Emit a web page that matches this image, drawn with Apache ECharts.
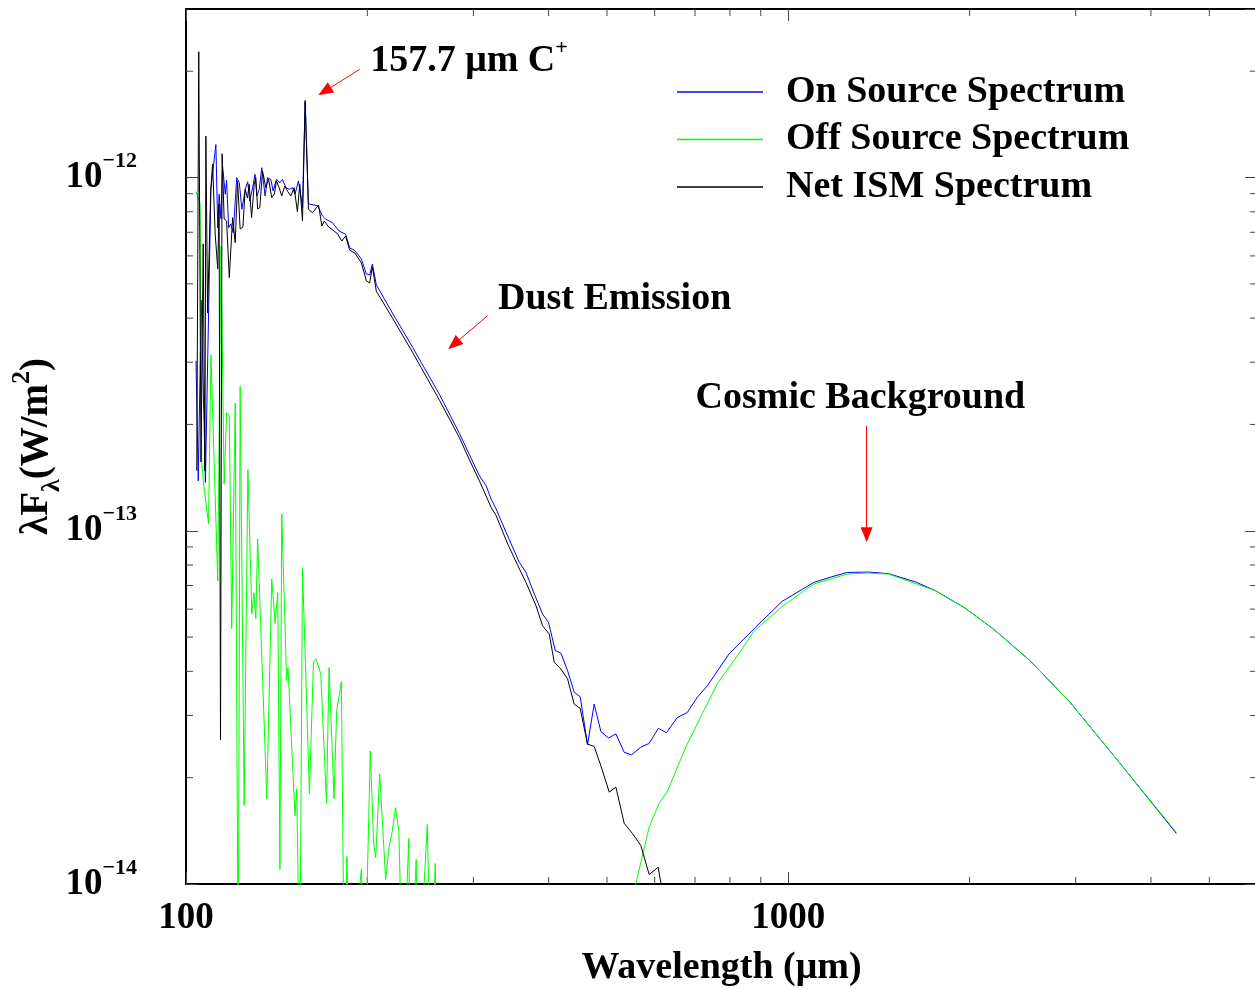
<!DOCTYPE html>
<html>
<head>
<meta charset="utf-8">
<title>ISM spectrum</title>
<script src="https://cdn.jsdelivr.net/npm/echarts@6/dist/echarts.min.js"></script>
<style>
html, body { margin: 0; padding: 0; background: #fff; }
#chart { width: 1255px; height: 989px; }
</style>
</head>
<body>
<div id="chart"></div>
<script>
var FONT = '"Liberation Serif", "Times New Roman", serif';
var TICK = '#444';
var UNIT = 1e-13; // flux values below are in units of 1e-13 W/m^2

var X_MIN = 100, X_MAX = 6000;
var Y_MIN = 1e-14, Y_MAX = 3e-12;
var X_MINOR = [200, 300, 400, 500, 600, 700, 800, 900, 2000, 3000, 4000, 5000];
var Y_MINOR = [2e-14, 3e-14, 4e-14, 5e-14, 6e-14, 7e-14, 8e-14, 9e-14,
               2e-13, 3e-13, 4e-13, 5e-13, 6e-13, 7e-13, 8e-13, 9e-13, 2e-12];

// on source spectrum (blue)
var ON_WL = [103.9, 104.8, 106.0, 107.7, 110.0, 112.1, 112.9, 113.5, 114.3, 115.0, 116.2, 116.8, 117.7, 118.7, 119.8,
  121.4, 122.6, 123.8, 125.4, 126.6, 127.6, 129.0, 130.2, 131.1, 132.3, 133.6, 135.3, 136.6, 138.3, 139.5,
  141.3, 143.2, 144.6, 146.5, 148.3, 150.3, 151.7, 153.7, 154.7, 156.1, 157.7, 159.7, 163.2, 165.5, 168.5,
  170.6, 175.0, 179.5, 184.1, 187.0, 190.6, 195.5, 199.3, 201.8, 203.9, 207.0, 220.6, 238.0, 263.6, 284.5,
  295.5, 307.0, 315.0, 321.1, 327.3, 340.0, 357.6, 366.9, 378.7, 390.9, 399.9, 410.3, 419.3, 430.0, 441.1,
  451.3, 464.1, 476.1, 488.5, 502.9, 517.3, 533.9, 549.0, 569.1, 587.4, 608.6, 627.4, 654.3, 679.8, 706.3,
  733.8, 797.1, 882.3, 976.5, 1102, 1181, 1252, 1359, 1467, 1625, 1754, 1966, 2190, 2519, 2935, 3506, 4409];
var ON_F = [3.03, 1.385, 4.49, 1.37, 9.34, 12.4, 7.20, 8.97, 7.65, 10.78, 8.97, 9.82, 7.21, 7.39, 6.98,
  9.99, 9.67, 8.13, 9.26, 9.73, 8.58, 9.36, 10.21, 8.87, 9.26, 10.66, 8.87, 9.99, 9.88, 9.16,
  9.88, 9.67, 9.88, 9.36, 9.26, 9.36, 8.97, 9.78, 9.16, 8.22, 16.54, 8.43, 8.36, 8.31, 7.78,
  7.62, 7.45, 7.06, 6.91, 6.32, 6.22, 5.88, 5.33, 5.30, 5.69, 4.97, 4.11, 3.30, 2.43, 1.885,
  1.641, 1.431, 1.341, 1.229, 1.152, 0.989, 0.814, 0.762, 0.662, 0.581, 0.550, 0.458, 0.450, 0.402, 0.349,
  0.339, 0.248, 0.323, 0.270, 0.259, 0.266, 0.236, 0.232, 0.244, 0.250, 0.276, 0.268, 0.296, 0.306, 0.338,
  0.364, 0.448, 0.533, 0.631, 0.714, 0.741, 0.762, 0.764, 0.756, 0.717, 0.677, 0.604, 0.527, 0.429, 0.327, 0.226, 0.139];

// off source spectrum (green)
var OFF_WL = [103.9, 105.5, 106.2, 106.8, 109.0, 110.0, 112.9, 114.3, 115.7, 116.8, 118.0, 119.1, 120.7, 122.1, 123.0,
  124.9, 126.7, 128.6, 129.6, 130.6, 131.5, 136.2, 138.8, 140.6, 142.0, 143.2, 144.2, 146.9, 147.7, 151.7,
  152.7, 154.5, 156.1, 160.3, 162.8, 164.3, 167.4, 171.1, 172.8, 176.1, 177.9, 181.1, 183.2, 185.0, 187.0,
  195.5, 198.0, 202.3, 204.9, 206.5, 209.7, 214.5, 217.3, 219.7, 222.8, 225.6, 229.1, 234.4, 235.6, 241.1,
  243.3, 251.5, 255.4, 259.3, 261.1, 507, 587.4, 610.2, 629.8, 675.7, 720.0, 762.3, 822.8, 876.6, 976.5,
  1102, 1252, 1351, 1467, 1754, 1966, 2190, 2519, 2935, 3506, 4409];
var OFF_F = [9.12, 8.43, 1.567, 1.385, 1.047, 3.15, 0.722, 6.40, 1.358, 2.16, 2.11, 0.528, 2.30, 0.05, 2.56,
  0.167, 1.488, 0.582, 0.668, 0.564, 0.949, 0.1745, 0.731, 0.546, 0.668, 0.1099, 1.117, 0.376, 0.410, 0.156,
  0.186, 0.05, 0.786, 0.180, 0.426, 0.434, 0.394, 0.169, 0.410, 0.1745, 0.310, 0.374, 0.05, 0.1196, 0.05,
  0.1099, 0.05, 0.238, 0.130, 0.1188, 0.205, 0.103, 0.1268, 0.139, 0.1645, 0.1417, 0.05, 0.1345, 0.05, 0.1173,
  0.05, 0.1474, 0.05, 0.1143, 0.05, 0.05, 0.1447, 0.169, 0.183, 0.244, 0.304, 0.369, 0.443, 0.519, 0.610,
  0.707, 0.754, 0.759, 0.754, 0.677, 0.604, 0.527, 0.429, 0.327, 0.226, 0.140];

// net ISM spectrum (black)
var NET_WL = [104.2, 105.0, 105.9, 106.8, 107.5, 107.9, 108.6, 109.9, 110.7, 111.8, 112.9, 113.5, 114.1, 114.8, 115.7,
  116.8, 118.0, 119.5, 120.7, 121.8, 123.0, 124.3, 125.4, 126.5, 127.3, 128.5, 129.8, 130.6, 131.5, 132.6,
  134.0, 135.7, 137.1, 138.8, 140.2, 141.3, 142.8, 144.2, 145.9, 147.6, 149.3, 151.2, 153.1, 154.5, 156.1,
  157.7, 159.7, 162.2, 166.0, 168.1, 169.6, 172.6, 176.1, 178.6, 181.4, 184.1, 187.0, 190.6, 195.5, 199.3,
  201.8, 203.9, 207.0, 220.6, 238.0, 263.6, 284.5, 295.5, 307.0, 321.1, 327.3, 342.1, 360.0, 366.9, 381.2,
  390.9, 401.0, 408.7, 419.3, 430.0, 441.1, 451.3, 464.1, 476.1, 488.5, 504.3, 517.3, 533.9, 551.1, 569.1,
  587.4, 607.9, 629.8];
var NET_F = [1.478, 22.7, 1.567, 6.49, 1.478, 13.1, 4.14, 9.16, 10.92, 6.92, 5.51, 8.42, 0.256, 11.68, 7.63,
  7.53, 5.21, 7.70, 6.54, 9.78, 7.15, 7.24, 9.26, 8.75, 9.57, 7.70, 9.57, 9.99, 8.15, 8.22,
  10.43, 9.36, 9.90, 8.77, 8.98, 9.78, 9.34, 8.87, 9.46, 9.12, 8.87, 9.36, 8.00, 9.57, 7.53,
  16.4, 8.13, 7.95, 8.36, 7.29, 7.53, 7.24, 7.06, 6.92, 6.61, 6.83, 6.22, 6.12, 5.73, 5.10,
  5.03, 5.58, 4.77, 3.98, 3.19, 2.34, 1.833, 1.588, 1.385, 1.164, 1.103, 0.917, 0.762, 0.714, 0.613,
  0.538, 0.510, 0.424, 0.406, 0.381, 0.323, 0.314, 0.249, 0.245, 0.216, 0.182, 0.188, 0.1486, 0.139, 0.1285,
  0.1064, 0.1115, 0.08];

// annotations: [wavelength, flux] for text, arrows from tail to head
var NOTE_TEXT = ['{t|157.7 μm C}{s|+}', 'Dust Emission', 'Cosmic Background'];
var NOTE_POS = [[201.8, 21.4e-13], [328.9, 4.53e-13], [700.0, 2.38e-13]];
var ARROWS = [[194.2, 20.24e-13, 169.9, 17.54e-13],
              [316.5, 4.06e-13, 278.4, 3.37e-13],
              [1349, 1.98e-13, 1349, 0.974e-13]];

function pairs(wl, f) {
    var out = [];
    for (var i = 0; i < Math.min(wl.length, f.length); i++) {
        out.push([wl[i], f[i] * UNIT]);
    }
    return out;
}

function tickLine(x1, y1, x2, y2) {
    return { type: 'line', shape: { x1: x1, y1: y1, x2: x2, y2: y2 }, style: { stroke: TICK, lineWidth: 1 } };
}

function minorX(params, api) {
    var v = api.value(0);
    var b = api.coord([v, Y_MIN]), t = api.coord([v, Y_MAX]);
    return { type: 'group', children: [tickLine(b[0], b[1], b[0], b[1] - 7), tickLine(t[0], t[1], t[0], t[1] + 7)] };
}

function minorY(params, api) {
    var v = api.value(1);
    var l = api.coord([X_MIN, v]), r = api.coord([X_MAX, v]);
    return { type: 'group', children: [tickLine(l[0], l[1], l[0] + 7, l[1]), tickLine(r[0], r[1], r[0] - 7, r[1])] };
}

function txt(size, extra) {
    var o = { fontFamily: FONT, fontWeight: 'bold', color: '#000', fontSize: size };
    for (var k in extra) o[k] = extra[k];
    return o;
}

var axisLine = { show: true, lineStyle: { color: '#000', width: 2 } };
var axisTick = { show: true, inside: true, length: 12, lineStyle: { color: TICK, width: 1 } };

var chart = echarts.init(document.getElementById('chart'));

chart.setOption({
    animation: false,
    backgroundColor: '#fff',
    textStyle: { fontFamily: FONT },
    grid: { left: 186, top: 9, width: 1071, height: 875, containLabel: false, outerBoundsMode: 'none' },
    legend: {
        data: ['On Source Spectrum', 'Off Source Spectrum', 'Net ISM Spectrum'],
        orient: 'vertical',
        left: 677,
        top: 72,
        padding: 0,
        icon: 'rect',
        itemWidth: 86,
        itemHeight: 1.5,
        itemGap: 7.5,
        selectedMode: false,
        textStyle: txt(38, { lineHeight: 40, padding: [0, 0, 0, 18] })
    },
    xAxis: [{
        type: 'log',
        logBase: 10,
        min: X_MIN,
        max: X_MAX,
        name: 'Wavelength (μm)',
        nameLocation: 'middle',
        nameGap: 64,
        nameMoveOverlap: false,
        nameTextStyle: txt(38, { lineHeight: 40 }),
        axisLine: axisLine,
        axisTick: axisTick,
        splitLine: { show: false },
        axisLabel: {
            margin: 16,
            showMaxLabel: false,
            formatter: function (v) { return String(Math.round(v)); },
            fontFamily: FONT, fontWeight: 'bold', fontSize: 37, color: '#000'
        }
    }, {
        type: 'log',
        logBase: 10,
        min: X_MIN,
        max: X_MAX,
        position: 'top',
        axisLine: axisLine,
        axisTick: axisTick,
        splitLine: { show: false },
        axisLabel: { show: false }
    }],
    yAxis: [{
        type: 'log',
        logBase: 10,
        min: Y_MIN,
        max: Y_MAX,
        name: '{n|λF}{sub|λ}{n|(W/m}{sup|2}{n|)}',
        nameLocation: 'middle',
        nameRotate: 90,
        nameGap: 121,
        nameMoveOverlap: false,
        nameTextStyle: {
            rich: {
                n: txt(39, { lineHeight: 56 }),
                sub: txt(26, { lineHeight: 24, verticalAlign: 'bottom' }),
                sup: txt(26, { lineHeight: 24, verticalAlign: 'top' })
            }
        },
        axisLine: axisLine,
        axisTick: axisTick,
        splitLine: { show: false },
        axisLabel: {
            margin: 49,
            showMaxLabel: false,
            formatter: function (v) {
                return '{b|10}{s|\u2212' + (-Math.round(Math.log10(v))) + '}';
            },
            rich: {
                b: txt(37, { lineHeight: 54 }),
                s: txt(22, { lineHeight: 22, verticalAlign: 'top' })
            }
        }
    }, {
        type: 'log',
        logBase: 10,
        min: Y_MIN,
        max: Y_MAX,
        position: 'right',
        axisLine: axisLine,
        axisTick: axisTick,
        splitLine: { show: false },
        axisLabel: { show: false }
    }],
    series: [{
        name: 'On Source Spectrum',
        type: 'line',
        symbol: 'none',
        clip: true,
        color: '#0000ff',
        lineStyle: { color: '#0000ff', width: 1 },
        data: pairs(ON_WL, ON_F)
    }, {
        name: 'Off Source Spectrum',
        type: 'line',
        symbol: 'none',
        clip: true,
        color: '#00ff00',
        lineStyle: { color: '#00ff00', width: 1 },
        data: pairs(OFF_WL, OFF_F)
    }, {
        name: 'Net ISM Spectrum',
        type: 'line',
        symbol: 'none',
        clip: true,
        color: '#000000',
        lineStyle: { color: '#000000', width: 1 },
        data: pairs(NET_WL, NET_F),
        markLine: {
            silent: true,
            symbol: ['none', 'triangle'],
            symbolSize: [12, 15],
            lineStyle: { color: '#ff0000', width: 1, type: 'solid' },
            itemStyle: { color: '#ff0000' },
            label: { show: false },
            emphasis: { disabled: true },
            data: ARROWS.map(function (a) {
                return [{ coord: [a[0], a[1]] }, { coord: [a[2], a[3]] }];
            })
        },
        markPoint: {
            silent: true,
            symbol: 'rect',
            symbolSize: 1,
            itemStyle: { color: 'rgba(0,0,0,0)' },
            label: {
                show: true,
                position: 'right',
                distance: 0,
                formatter: '{b}',
                fontFamily: FONT, fontWeight: 'bold', fontSize: 38, color: '#000', lineHeight: 48,
                rich: {
                    t: txt(38, { lineHeight: 48 }),
                    s: txt(22, { lineHeight: 22, verticalAlign: 'top' })
                }
            },
            data: NOTE_TEXT.map(function (t, i) {
                return { name: t, coord: NOTE_POS[i] };
            })
        }
    }, {
        name: 'xMinor',
        type: 'custom',
        silent: true,
        clip: false,
        renderItem: minorX,
        data: X_MINOR.map(function (v) { return [v, Y_MIN]; })
    }, {
        name: 'yMinor',
        type: 'custom',
        silent: true,
        clip: false,
        renderItem: minorY,
        data: Y_MINOR.map(function (v) { return [X_MIN, v]; })
    }]
});
</script>
</body>
</html>
